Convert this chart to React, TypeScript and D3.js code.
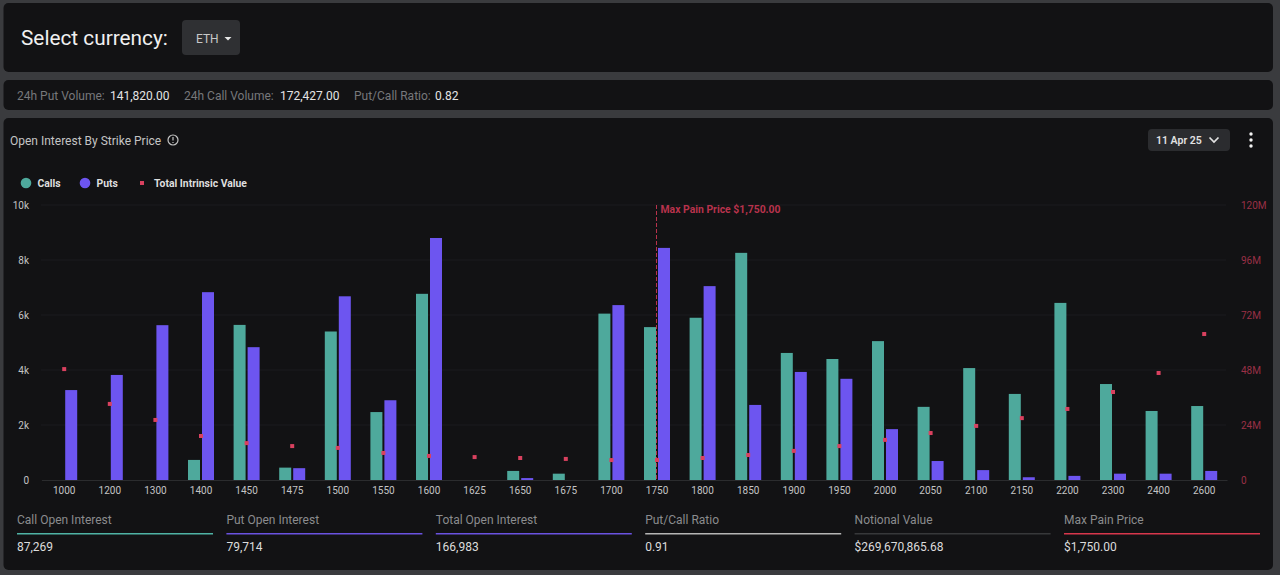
import React, { useEffect, useRef } from 'react';
import * as d3 from 'd3';

const strikes = ['1000', '1200', '1300', '1400', '1450', '1475', '1500', '1550', '1600', '1625', '1650', '1675', '1700', '1750', '1800', '1850', '1900', '1950', '2000', '2050', '2100', '2150', '2200', '2300', '2400', '2600'];
const calls = [0, 0, 0, 730, 5640, 450, 5400, 2470, 6770, 0, 330, 230, 6050, 5560, 5900, 8260, 4620, 4400, 5050, 2660, 4070, 3130, 6440, 3490, 2510, 2690];
const puts = [3270, 3820, 5630, 6830, 4830, 430, 6680, 2900, 8800, 0, 70, 0, 6360, 8440, 7050, 2730, 3930, 3680, 1850, 690, 360, 100, 150, 230, 230, 330];
const intrinsic = [48.4, 33.2, 26.2, 19.2, 16.1, 14.8, 14, 11.8, 10.5, 10, 9.6, 9.2, 8.7, 8.7, 9.6, 10.9, 12.7, 14.8, 17.5, 20.5, 23.6, 27, 31, 38.4, 46.7, 63.7];
const leftTicks = [0, 2000, 4000, 6000, 8000, 10000];
const rightTicks = [0, 24, 48, 72, 96, 120];
const maxPainStrike = '1750';

const statLabels = ['Call Open Interest', 'Put Open Interest', 'Total Open Interest', 'Put/Call Ratio', 'Notional Value', 'Max Pain Price'];
const statValues = ['87,269', '79,714', '166,983', '0.91', '$269,670,865.68', '$1,750.00'];
const statColors = ['#4fb3a5', '#6a52e0', '#6a52e0', '#b5b5b5', '#37383a', '#d8374c'];

const volumeLabels = ['24h Put Volume:', '24h Call Volume:', 'Put/Call Ratio:'];
const volumeValues = ['141,820.00', '172,427.00', '0.82'];

const TEAL = '#4ea99c';
const PURPLE = '#6d55f0';
const PINK = '#d9415f';
const RED_DIM = '#9a3046';
const FONT = 'Roboto, sans-serif';

const App: React.FC = () => {
    const svgRef = useRef<SVGSVGElement>(null);

    useEffect(() => {
        if (!svgRef.current) return;
        document.body.style.margin = '0';

        const svg = d3.select(svgRef.current);
        svg.selectAll('*').remove();
        svg.attr('font-family', FONT);

        // Page background and the three cards
        svg.append('rect').attr('width', 1280).attr('height', 575).attr('fill', '#3a3b3e');
        [[3, 72], [80, 110], [118, 570]].forEach(([top, bottom]) => {
            svg.append('rect')
                .attr('x', 3.5)
                .attr('y', top)
                .attr('width', 1269.5)
                .attr('height', bottom - top)
                .attr('rx', 5)
                .attr('fill', '#121214');
        });

        // Currency selector
        svg.append('text').attr('x', 21).attr('y', 44.5).attr('font-size', 20.8).attr('fill', '#f0f0f0').text('Select currency:');
        svg.append('rect').attr('x', 182).attr('y', 20).attr('width', 58).attr('height', 35).attr('rx', 4).attr('fill', '#2f3033');
        svg.append('text').attr('x', 196).attr('y', 43).attr('font-size', 12).attr('fill', '#c8c8c8').text('ETH');
        svg.append('path').attr('d', 'M224.5 37h7l-3.5 3.5z').attr('fill', '#e8e8e8');

        // Volume row
        const volumeX = [17, 184, 354];
        const volumeValueX = [110, 280, 435];
        volumeLabels.forEach((label, i) => {
            svg.append('text').attr('x', volumeX[i]).attr('y', 99.5).attr('font-size', 12).attr('fill', '#77787b').text(label);
            svg.append('text').attr('x', volumeValueX[i]).attr('y', 99.5).attr('font-size', 12).attr('fill', '#e4e4e4').text(volumeValues[i]);
        });

        // Chart header
        svg.append('text').attr('x', 10).attr('y', 144.5).attr('font-size', 12).attr('fill', '#c4c4c4').text('Open Interest By Strike Price');
        svg.append('circle').attr('cx', 173).attr('cy', 140).attr('r', 5).attr('fill', 'none').attr('stroke', '#c4c4c4').attr('stroke-width', 1.2);
        svg.append('path').attr('d', 'M173 137v3.5M173 142v1').attr('stroke', '#c4c4c4').attr('stroke-width', 1.2);

        svg.append('rect').attr('x', 1148).attr('y', 129).attr('width', 82).attr('height', 22).attr('rx', 4).attr('fill', '#2b2c2f');
        svg.append('text').attr('x', 1156).attr('y', 144).attr('font-size', 10.5).attr('font-weight', 600).attr('fill', '#e2e2e2').text('11 Apr 25');
        svg.append('path').attr('d', 'M1209.5 137.5l4.5 4.5 4.5-4.5').attr('fill', 'none').attr('stroke', '#e2e2e2').attr('stroke-width', 1.7);
        [134, 140, 146].forEach(cy => {
            svg.append('circle').attr('cx', 1251).attr('cy', cy).attr('r', 1.7).attr('fill', '#f2f2f2');
        });

        // Legend
        svg.append('circle').attr('cx', 26).attr('cy', 183).attr('r', 5.3).attr('fill', TEAL);
        svg.append('text').attr('x', 37.5).attr('y', 186.5).attr('font-size', 10.4).attr('font-weight', 700).attr('fill', '#dedede').text('Calls');
        svg.append('circle').attr('cx', 85).attr('cy', 183).attr('r', 5.3).attr('fill', PURPLE);
        svg.append('text').attr('x', 96.5).attr('y', 186.5).attr('font-size', 10.4).attr('font-weight', 700).attr('fill', '#dedede').text('Puts');
        svg.append('rect').attr('x', 140).attr('y', 181).attr('width', 4).attr('height', 4).attr('fill', PINK);
        svg.append('text').attr('x', 154).attr('y', 186.5).attr('font-size', 10.4).attr('font-weight', 700).attr('fill', '#dedede').text('Total Intrinsic Value');

        // Scales
        const xScale = d3.scaleBand().domain(strikes).range([41.4, 1227]);
        const xInner = d3.scaleBand().domain(['calls', 'puts']).range([0, xScale.bandwidth()]).paddingInner(0.143).paddingOuter(0.7);
        const yScale = d3.scaleLinear().domain([0, 10000]).range([480, 205]);
        const yRight = d3.scaleLinear().domain([0, 120]).range([480, 205]);

        // Grid lines
        svg.append('g')
            .selectAll('line')
            .data(leftTicks.slice(1))
            .enter()
            .append('line')
            .attr('x1', 41)
            .attr('x2', 1226)
            .attr('y1', d => yScale(d))
            .attr('y2', d => yScale(d))
            .attr('stroke', '#1b1b1e');

        // Axes
        const xAxis = svg.append('g')
            .attr('transform', 'translate(0,480)')
            .call(d3.axisBottom(xScale).tickSize(0).tickPadding(7));
        xAxis.select('.domain').attr('stroke', '#2b2c2e');
        xAxis.selectAll('text').attr('font-size', 10).attr('font-family', FONT).attr('fill', '#c4c4c4');

        const leftAxis = svg.append('g')
            .attr('transform', 'translate(29,0)')
            .call(d3.axisLeft(yScale).tickValues(leftTicks).tickSize(0).tickPadding(0).tickFormat(d => (+d === 0 ? '0' : `${+d / 1000}k`)));
        leftAxis.select('.domain').remove();
        leftAxis.selectAll('text').attr('font-size', 10).attr('font-family', FONT).attr('fill', '#c4c4c4');

        const rightAxis = svg.append('g')
            .attr('transform', 'translate(1241,0)')
            .call(d3.axisRight(yRight).tickValues(rightTicks).tickSize(0).tickPadding(0).tickFormat(d => (+d === 0 ? '0' : `${d}M`)));
        rightAxis.select('.domain').remove();
        rightAxis.selectAll('text').attr('font-size', 10).attr('font-family', FONT).attr('fill', RED_DIM);

        // Bars
        const drawBars = (values: number[], key: string, fill: string) => {
            svg.append('g')
                .selectAll('rect')
                .data(values)
                .enter()
                .append('rect')
                .attr('x', (_, i) => (xScale(strikes[i]) as number) + (xInner(key) as number))
                .attr('y', d => yScale(d))
                .attr('width', xInner.bandwidth())
                .attr('height', d => yScale(0) - yScale(d))
                .attr('fill', fill);
        };
        drawBars(calls, 'calls', TEAL);
        drawBars(puts, 'puts', PURPLE);

        // Max pain marker
        const painX = (xScale(maxPainStrike) as number) + xScale.bandwidth() / 2 - 0.5;
        svg.append('line')
            .attr('x1', painX)
            .attr('x2', painX)
            .attr('y1', yScale(10000))
            .attr('y2', yScale(0))
            .attr('stroke', '#b8324c')
            .attr('stroke-dasharray', '4,2');
        svg.append('text')
            .attr('x', painX + 4)
            .attr('y', 212.5)
            .attr('font-size', 10.4)
            .attr('font-weight', 700)
            .attr('fill', '#b8324c')
            .text('Max Pain Price $1,750.00');

        // Intrinsic value points
        svg.append('g')
            .selectAll('rect')
            .data(intrinsic)
            .enter()
            .append('rect')
            .attr('x', (_, i) => (xScale(strikes[i]) as number) + xScale.bandwidth() / 2 - 2)
            .attr('y', d => yRight(d) - 2)
            .attr('width', 4)
            .attr('height', 4)
            .attr('fill', PINK);

        // Summary stats
        statLabels.forEach((label, i) => {
            const left = 17 + i * 209.4;
            svg.append('text').attr('x', left).attr('y', 524).attr('font-size', 12).attr('fill', '#8b8c8e').text(label);
            svg.append('rect')
                .attr('x', left)
                .attr('y', 533)
                .attr('width', 196)
                .attr('height', 1.5)
                .attr('fill', statColors[i]);
            svg.append('text').attr('x', left).attr('y', 551).attr('font-size', 12).attr('fill', '#dcdcdc').text(statValues[i]);
        });
    }, []);

    return <svg ref={svgRef} width={1280} height={575} style={{ display: 'block' }}></svg>;
};

export default App;
